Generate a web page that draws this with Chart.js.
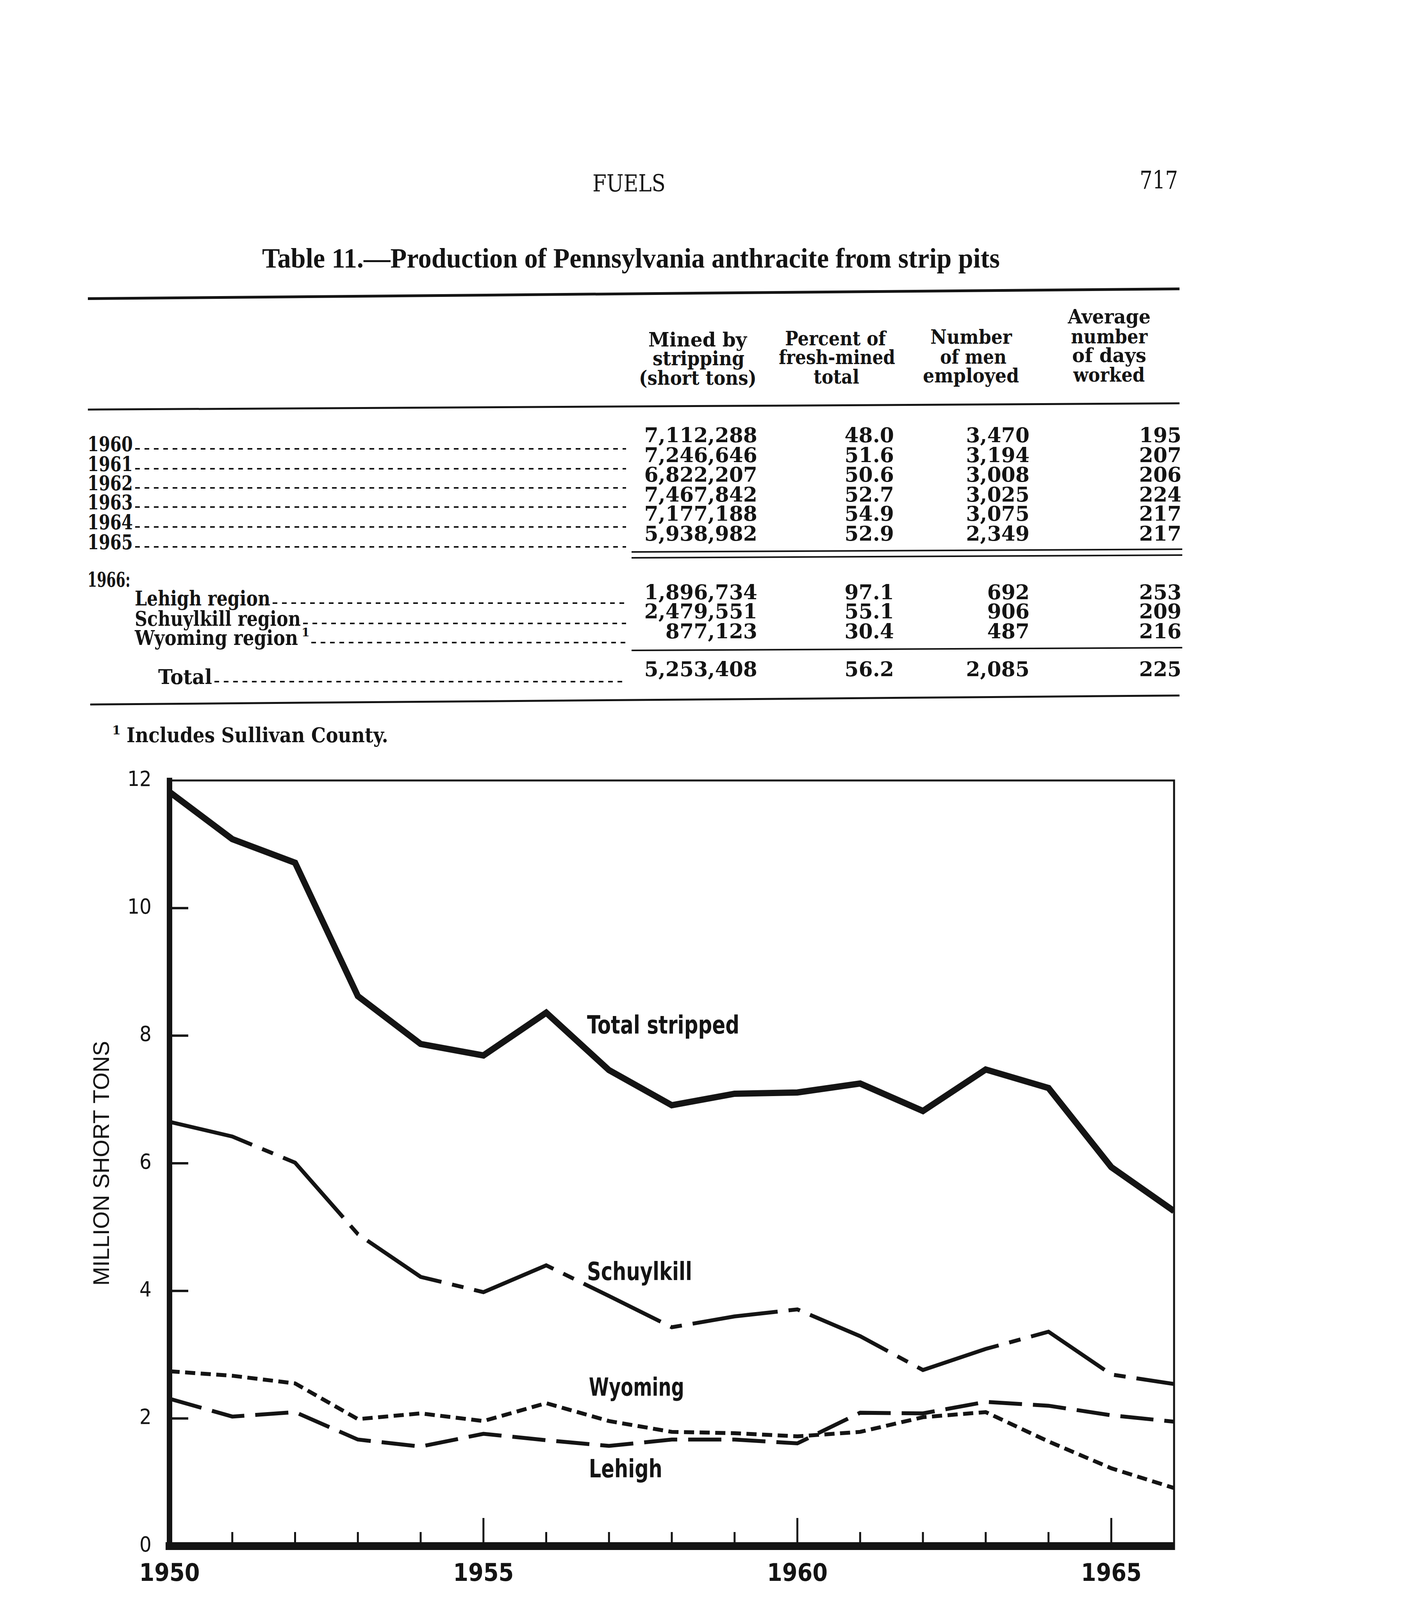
<!DOCTYPE html>
<html>
<head>
<meta charset="utf-8">
<script src="https://cdn.jsdelivr.net/npm/chart.js@4/dist/chart.umd.min.js"></script>
<style>
  html, body { margin: 0; padding: 0; background: #ffffff; }
  body { width: 3628px; height: 5486px; position: relative; overflow: hidden; color: #141414; }
  .t { position: absolute; white-space: nowrap; line-height: 1; }
  .rule { position: absolute; background: #141414; transform-origin: 0 50%; }
  .lead { position: absolute; height: 4px;
          background: repeating-linear-gradient(90deg, #141414 0 12px, transparent 12px 24px); }
  #chartBox { position: absolute; left: 0; top: 1900px; width: 3200px; height: 2200px; }
</style>
</head>
<body>
<div id="chartBox"><canvas id="c" width="3200" height="2200" style="width:3200px;height:2200px"></canvas></div>
<script>
// ---------------- data: figure ----------------
const years = [1950, 1951, 1952, 1953, 1954, 1955, 1956, 1957, 1958, 1959, 1960, 1961, 1962, 1963, 1964, 1965, 1966];
const totalStripped = [11.82, 11.08, 10.71, 8.62, 7.87, 7.69, 8.36, 7.46, 6.91, 7.09, 7.11, 7.25, 6.82, 7.47, 7.18, 5.94, 5.25];
const schuylkill    = [6.65, 6.42, 6.01, 4.89, 4.22, 3.98, 4.40, 3.92, 3.43, 3.60, 3.71, 3.29, 2.76, 3.09, 3.36, 2.69, 2.54];
const wyoming       = [2.74, 2.67, 2.55, 1.99, 2.08, 1.96, 2.24, 1.96, 1.79, 1.77, 1.72, 1.79, 2.02, 2.10, 1.64, 1.22, 0.91];
const lehigh        = [2.31, 2.03, 2.10, 1.67, 1.56, 1.76, 1.66, 1.57, 1.67, 1.67, 1.61, 2.09, 2.08, 2.26, 2.20, 2.05, 1.95];
const seriesNames   = ['Total stripped', 'Schuylkill', 'Wyoming', 'Lehigh'];
const xLabelYears   = [1950, 1955, 1960, 1965];
const yTickValues   = [0, 2, 4, 6, 8, 10, 12];
const yAxisTitle    = 'MILLION SHORT TONS';

// ---------------- data: table ----------------
const tableYears      = ['1960', '1961', '1962', '1963', '1964', '1965'];
const minedByStripping = ['7,112,288', '7,246,646', '6,822,207', '7,467,842', '7,177,188', '5,938,982'];
const percentFresh    = ['48.0', '51.6', '50.6', '52.7', '54.9', '52.9'];
const menEmployed     = ['3,470', '3,194', '3,008', '3,025', '3,075', '2,349'];
const daysWorked      = ['195', '207', '206', '224', '217', '217'];
const regions1966     = ['Lehigh region', 'Schuylkill region', 'Wyoming region'];
const regionMined     = ['1,896,734', '2,479,551', '877,123'];
const regionPercent   = ['97.1', '55.1', '30.4'];
const regionMen       = ['692', '906', '487'];
const regionDays      = ['253', '209', '216'];
const total1966       = ['5,253,408', '56.2', '2,085', '225'];

// ---------------- page text ----------------
const INK = '#141414';
const PAGE_W = 3628;
const SERIF = "'DejaVu Serif', 'Liberation Serif', serif";
const TSERIF = "'Liberation Serif', 'DejaVu Serif', serif";
const SANS = "'Liberation Sans', 'DejaVu Sans', Arial, sans-serif";
const SANS_N = "'Liberation Sans Narrow', 'DejaVu Sans Condensed', 'Liberation Sans', sans-serif";
const fits = [];

function txt(text, o) {
  const d = document.createElement('div');
  d.className = 't';
  d.textContent = text;
  d.style.fontFamily = o.family || SERIF;
  d.style.fontSize = o.size + 'px';
  d.style.fontWeight = o.weight || 'normal';
  d.style.top = (o.y - 0.48 * o.size) + 'px';
  if (o.align === 'right') d.style.right = (PAGE_W - o.x) + 'px';
  else d.style.left = o.x + 'px';
  document.body.appendChild(d);
  if (o.w) fits.push([d, o.w, o.align === 'right' ? 'right' : 'left']);
  return d;
}
function rule(x1, y1, x2, y2, h) {
  const d = document.createElement('div');
  d.className = 'rule';
  const len = Math.hypot(x2 - x1, y2 - y1);
  d.style.left = x1 + 'px';
  d.style.top = (y1 - h / 2) + 'px';
  d.style.width = len + 'px';
  d.style.height = h + 'px';
  d.style.transform = 'rotate(' + Math.atan2(y2 - y1, x2 - x1) + 'rad)';
  document.body.appendChild(d);
}
function leader(x1, x2, y) {
  const d = document.createElement('div');
  d.className = 'lead';
  d.style.left = x1 + 'px';
  d.style.top = (y - 2) + 'px';
  d.style.width = (x2 - x1) + 'px';
  document.body.appendChild(d);
}

// running head
txt('FUELS', {x: 1517, y: 468, size: 60, w: 187});
txt('717', {x: 2918, y: 460, size: 64, w: 98});
// table title
txt('Table 11.\u2014Production of Pennsylvania anthracite from strip pits',
    {x: 671, y: 660, size: 72, w: 1889, weight: 'bold', family: TSERIF});

// rules
rule(225, 764, 3020, 739, 7);
rule(225, 1048, 3020, 1032, 5);
rule(1617, 1413, 3027, 1406, 4);
rule(1617, 1428, 3027, 1421, 4);
rule(1617, 1665, 3027, 1658, 4);
rule(231, 1803, 3020, 1780, 5);

// column headings
const HS = 50, HW = 'bold';
[
  ['Mined by', 1660, 869, 252], ['stripping', 1671, 917, 235], ['(short tons)', 1636, 967, 301],
  ['Percent of', 2010, 866, 258], ['fresh-mined', 1994, 914, 298], ['total', 2083, 964, 117],
  ['Number', 2382, 862, 209], ['of men', 2407, 913, 170], ['employed', 2363, 961, 246],
  ['Average', 2734, 810, 212], ['number', 2742, 861, 196], ['of days', 2745, 909, 190], ['worked', 2748, 959, 183]
].forEach(h => txt(h[0], {x: h[1], y: h[2], size: HS, w: h[3], weight: HW}));

// numeric columns
const colRight = [1939, 2289, 2636, 3025];
const NS = 52;
const rowY = [1113, 1164, 1214, 1265, 1314, 1365];
const labelY = [1136, 1187, 1236, 1285, 1336, 1387];
tableYears.forEach((yr, i) => {
  const row = [minedByStripping[i], percentFresh[i], menEmployed[i], daysWorked[i]];
  row.forEach((v, j) => txt(v, {x: colRight[j], y: rowY[i], size: NS, align: 'right', weight: 'bold'}));
  txt(yr, {x: 224, y: labelY[i], size: NS, w: 116, weight: 'bold'});
  leader(346, 1603, labelY[i] + 13);
});
txt('1966:', {x: 224, y: 1483, size: NS, w: 110, weight: 'bold'});
const regY = [1515, 1564, 1615];
const regLabelY = [1531, 1583, 1632];
const regLabelW = [347, 425, 418];
regions1966.forEach((r, i) => {
  const row = [regionMined[i], regionPercent[i], regionMen[i], regionDays[i]];
  row.forEach((v, j) => txt(v, {x: colRight[j], y: regY[i], size: NS, align: 'right', weight: 'bold'}));
  txt(r, {x: 345, y: regLabelY[i], size: NS, w: regLabelW[i], weight: 'bold'});
  const end = 345 + regLabelW[i] + (i === 2 ? 34 : 6);
  leader(end, 1603, regLabelY[i] + 13);
});
txt('1', {x: 772, y: 1618, size: 30, weight: 'bold'});
total1966.forEach((v, j) => txt(v, {x: colRight[j], y: 1712, size: NS, align: 'right', weight: 'bold'}));
txt('Total', {x: 405, y: 1732, size: NS, w: 138, weight: 'bold'});
leader(549, 1603, 1745);
// footnote
txt('1', {x: 287, y: 1868, size: 32, weight: 'bold'});
txt('Includes Sullivan County.', {x: 324, y: 1881, size: NS, w: 670, weight: 'bold'});
// figure caption
txt('Figure 4.\u2014Pennsylvania anthracite mined from strip pits, by regions.',
    {x: 582, y: 4138, size: 66, w: 2104, weight: 'bold', family: TSERIF});

function applyFits() {
  fits.forEach(([d, w, side]) => {
    d.style.transform = 'none';
    const cw = d.getBoundingClientRect().width;
    if (cw > 0) {
      d.style.transformOrigin = side === 'right' ? 'right center' : 'left center';
      d.style.transform = 'scaleX(' + (w / cw) + ')';
    }
  });
}
applyFits();
if (document.fonts && document.fonts.ready) document.fonts.ready.then(applyFits);

// ---------------- chart ----------------
const labelAnchorYear  = [1956.65, 1956.65, 1956.68, 1956.68];
const labelAnchorValue = [8.03, 4.17, 2.36, 1.08];
const labelWidthPx     = [390, 269, 244, 188];

const pts = arr => years.map((yr, i) => ({x: yr, y: arr[i]}));

const framePlugin = {
  id: 'frameAndLabels',
  afterDraw(chart) {
    const {ctx, chartArea: a, scales: {x, y}} = chart;
    ctx.save();
    ctx.strokeStyle = INK;
    ctx.lineCap = 'butt';
    // top & right frame
    ctx.lineWidth = 5;
    ctx.beginPath();
    ctx.moveTo(a.left, a.top); ctx.lineTo(a.right, a.top); ctx.lineTo(a.right, a.bottom + 10);
    ctx.stroke();
    // inner y ticks
    ctx.lineWidth = 6;
    ctx.beginPath();
    yTickValues.forEach(v => {
      if (v <= y.min || v >= y.max) return;
      const py = y.getPixelForValue(v);
      ctx.moveTo(a.left, py); ctx.lineTo(a.left + 48, py);
    });
    ctx.stroke();
    // inner x ticks (every year)
    ctx.lineWidth = 5;
    ctx.beginPath();
    years.forEach(yr => {
      if (yr <= x.min || yr >= x.max) return;
      const px = x.getPixelForValue(yr);
      const len = xLabelYears.includes(yr) ? 72 : 36;
      ctx.moveTo(px, a.bottom); ctx.lineTo(px, a.bottom - len);
    });
    ctx.stroke();
    // series labels
    ctx.fillStyle = INK;
    ctx.font = 'bold 64px ' + SANS_N;
    ctx.textBaseline = 'alphabetic';
    seriesNames.forEach((name, i) => {
      const px = x.getPixelForValue(labelAnchorYear[i]);
      const py = y.getPixelForValue(labelAnchorValue[i]);
      const m = ctx.measureText(name).width;
      ctx.save();
      ctx.translate(px, py);
      ctx.scale(labelWidthPx[i] / m, 1);
      ctx.fillText(name, 0, 0);
      ctx.restore();
    });
    ctx.restore();
  }
};

Chart.defaults.color = INK;
new Chart(document.getElementById('c'), {
  type: 'line',
  data: {
    datasets: [
      {label: seriesNames[0], data: pts(totalStripped), borderColor: INK, borderWidth: 16,
       pointRadius: 0, tension: 0, fill: false, borderJoinStyle: 'miter'},
      {label: seriesNames[1], data: pts(schuylkill), borderColor: INK, borderWidth: 10,
       pointRadius: 0, tension: 0, fill: false, borderDash: [220, 28, 30, 28]},
      {label: seriesNames[2], data: pts(wyoming), borderColor: INK, borderWidth: 10,
       pointRadius: 0, tension: 0, fill: false, borderDash: [26, 14]},
      {label: seriesNames[3], data: pts(lehigh), borderColor: INK, borderWidth: 10,
       pointRadius: 0, tension: 0, fill: false, borderDash: [85, 28]}
    ]
  },
  options: {
    responsive: false,
    maintainAspectRatio: false,
    animation: false,
    devicePixelRatio: 1,
    layout: {padding: {left: 0, right: 194, top: 98, bottom: 0}},
    plugins: {legend: {display: false}, tooltip: {enabled: false}},
    scales: {
      x: {
        type: 'linear', min: 1950, max: 1966,
        afterFit(s) { s.height = 142; },
        grid: {display: false, drawTicks: false},
        border: {display: true, color: INK, width: 20},
        ticks: {
          stepSize: 1, autoSkip: false, maxRotation: 0, padding: 36, color: INK,
          font: {family: SANS_N, size: 62, weight: 'bold'},
          callback: v => xLabelYears.includes(v) ? String(v) : ''
        }
      },
      y: {
        min: 0, max: 12,
        afterFit(s) { s.width = 434; },
        grid: {display: false, drawTicks: false},
        border: {display: true, color: INK, width: 14},
        ticks: {
          stepSize: 2, padding: 46, color: INK,
          font: {family: SANS_N, size: 54},
          callback: v => yTickValues.includes(v) ? String(v) : ''
        },
        title: {
          display: true, text: yAxisTitle, color: INK,
          font: {family: SANS, size: 58},
          padding: {top: 228, bottom: 0}
        }
      }
    }
  },
  plugins: [framePlugin]
});
</script>
</body>
</html>
